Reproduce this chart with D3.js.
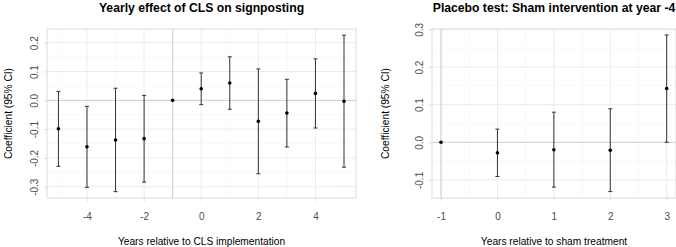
<!DOCTYPE html>
<html><head><meta charset="utf-8">
<script src="https://cdn.jsdelivr.net/npm/d3@7"></script>
<style>body{margin:0;background:#fff}svg{display:block;font-family:"Liberation Sans",Arial,sans-serif}</style>
</head><body><svg id="c" width="676" height="247"></svg>
<script>
// Left panel data
const yearsA = [-5,-4,-3,-2,-1,0,1,2,3,4,5];
const estA   = [-0.099,-0.161,-0.138,-0.133,0,0.040,0.060,-0.073,-0.044,0.024,-0.003];
const lowA   = [-0.229,-0.302,-0.317,-0.284,0,-0.015,-0.031,-0.255,-0.162,-0.096,-0.232];
const highA  = [0.031,-0.021,0.042,0.017,0,0.095,0.151,0.109,0.073,0.144,0.226];
const xTicksA = [-4,-2,0,2,4];
const yTicksA = [-0.3,-0.2,-0.1,0.0,0.1,0.2];
// Right panel data
const yearsB = [-1,0,1,2,3];
const estB   = [0,-0.028,-0.020,-0.021,0.143];
const lowB   = [0,-0.091,-0.119,-0.131,0.0];
const highB  = [0,0.035,0.080,0.089,0.285];
const xTicksB = [-1,0,1,2,3];
const yTicksB = [-0.1,0.0,0.1,0.2,0.3];

const svg = d3.select("#c");

function panel(o){
  const g = svg.append("g");
  const x = d3.scaleLinear().domain(o.xd).range([o.l,o.r]);
  const y = d3.scaleLinear().domain(o.yd).range([o.b,o.t]);
  // minor grid
  o.xMinor.forEach(v=>g.append("line").attr("x1",x(v)).attr("x2",x(v)).attr("y1",o.t).attr("y2",o.b).attr("stroke","#f4f4f4").attr("stroke-width",0.6));
  o.yMinor.forEach(v=>g.append("line").attr("y1",y(v)).attr("y2",y(v)).attr("x1",o.l).attr("x2",o.r).attr("stroke","#f4f4f4").attr("stroke-width",0.6));
  // major grid
  o.xt.forEach(v=>g.append("line").attr("x1",x(v)).attr("x2",x(v)).attr("y1",o.t).attr("y2",o.b).attr("stroke","#ebebeb").attr("stroke-width",1));
  o.yt.forEach(v=>g.append("line").attr("y1",y(v)).attr("y2",y(v)).attr("x1",o.l).attr("x2",o.r).attr("stroke","#ebebeb").attr("stroke-width",1));
  // reference lines
  g.append("line").attr("y1",y(0)).attr("y2",y(0)).attr("x1",o.l).attr("x2",o.r).attr("stroke","#cfcfcf").attr("stroke-width",1);
  g.append("line").attr("x1",x(-1)).attr("x2",x(-1)).attr("y1",o.t).attr("y2",o.b).attr("stroke","#cfcfcf").attr("stroke-width",1);
  // border
  g.append("rect").attr("x",o.l).attr("y",o.t).attr("width",o.r-o.l).attr("height",o.b-o.t).attr("fill","none").attr("stroke","#dcdcdc").attr("stroke-width",1);
  // axes
  const xa = g.append("g").attr("transform",`translate(0,${o.b})`)
    .call(d3.axisBottom(x).tickValues(o.xt).tickFormat(d3.format("d")).tickSize(3).tickPadding(12));
  const ya = g.append("g").attr("transform",`translate(${o.l},0)`)
    .call(d3.axisLeft(y).tickValues(o.yt).tickFormat(d3.format(".1f")).tickSize(3).tickPadding(3));
  [xa,ya].forEach(a=>{a.select(".domain").remove();a.selectAll(".tick line").attr("stroke","#dcdcdc");
    a.selectAll("text").attr("fill","#4d4d4d").style("font-size","10px").style("font-family","Liberation Sans, Arial, sans-serif");});
  xa.selectAll("text").text(d=>d3.format("d")(d).replace("−","-"));
  ya.selectAll("text").text(d=>d3.format(".1f")(d).replace("−","-"));
  ya.selectAll(".tick text").attr("x",null).attr("y",0).attr("dy","0").attr("text-anchor","middle")
    .attr("transform","translate(-9.5,0) rotate(-90)");
  // error bars
  const n = o.xs.length;
  for(let i=0;i<n;i++){
    const cx = x(o.xs[i]);
    if(o.hi[i]!==o.lo[i]){
      g.append("line").attr("x1",cx).attr("x2",cx).attr("y1",y(o.hi[i])).attr("y2",y(o.lo[i])).attr("stroke","#333").attr("stroke-width",1);
      [o.hi[i],o.lo[i]].forEach(v=>g.append("line").attr("x1",cx-2).attr("x2",cx+2).attr("y1",y(v)).attr("y2",y(v)).attr("stroke","#333").attr("stroke-width",1));
    }
    g.append("circle").attr("cx",cx).attr("cy",y(o.est[i])).attr("r",1.8).attr("fill","#000");
  }
  // titles
  const cx = (o.l+o.r)/2;
  svg.append("text").attr("x",cx).attr("y",11.5).attr("text-anchor","middle").style("font-weight","bold").style("font-size","12.2px").attr("fill","#000").text(o.title);
  svg.append("text").attr("x",cx).attr("y",245).attr("text-anchor","middle").style("font-size","10.2px").attr("fill","#000").text(o.xtitle);
  svg.append("text").attr("transform",`translate(${o.ytx},${(o.t+o.b)/2}) rotate(-90)`).attr("text-anchor","middle").style("font-size","10.2px").attr("fill","#000").text("Coefficient (95% CI)");
}

panel({l:47,r:356,t:29,b:198,xd:[-5.4,5.42],yd:[-0.339,0.2476],xt:xTicksA,yt:yTicksA,
  xMinor:[-5,-3,-1,1,3,5],yMinor:[-0.25,-0.15,-0.05,0.05,0.15],
  xs:yearsA,est:estA,lo:lowA,hi:highA,title:"Yearly effect of CLS on signposting",
  xtitle:"Years relative to CLS implementation",ytx:11.5});
panel({l:432,r:676,t:29,b:198,xd:[-1.16,3.165],yd:[-0.148,0.301],xt:xTicksB,yt:yTicksB,
  xMinor:[-0.5,0.5,1.5,2.5],yMinor:[-0.05,0.05,0.15,0.25],
  xs:yearsB,est:estB,lo:lowB,hi:highB,title:"Placebo test: Sham intervention at year -4",
  xtitle:"Years relative to sham treatment",ytx:389});
</script></body></html>
